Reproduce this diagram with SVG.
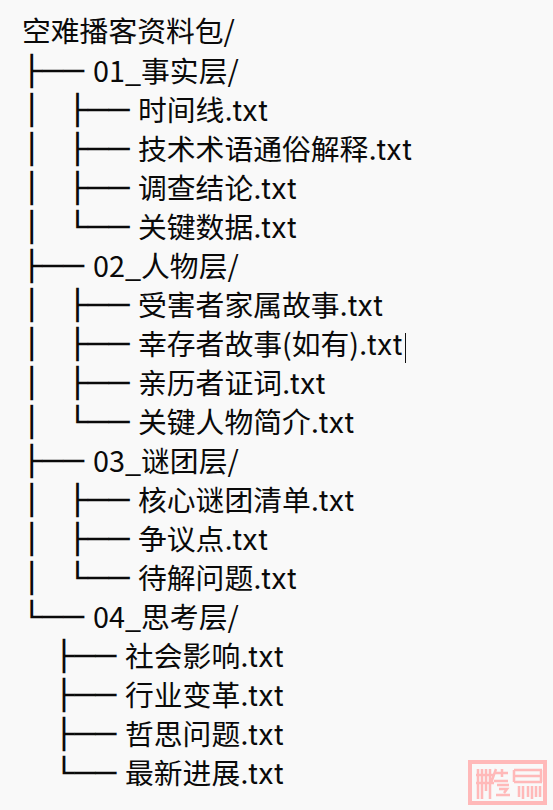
<svg xmlns="http://www.w3.org/2000/svg" width="553" height="810" viewBox="0 0 553 810">
<style>
.l{font-family:"Noto Sans CJK SC","Liberation Sans",sans-serif;font-size:28.8px;fill:#0a0a0a}
.e{font-family:Inter,"Noto Sans",sans-serif}
.t{font-family:"DejaVu Sans Mono",monospace;font-size:29px;fill:#0a0a0a}
.s{stroke:#ffb9b9;fill:none}
</style>
<rect width="553" height="810" fill="#f9f9f9"/>
<g id="connectors">
<text class="t" x="21.300" y="81" textLength="62.400" lengthAdjust="spacingAndGlyphs">├──</text>
<text class="t" x="21.300" y="120" textLength="20.800" lengthAdjust="spacingAndGlyphs">│</text><text class="t" x="67" y="120" textLength="62.400" lengthAdjust="spacingAndGlyphs">├──</text>
<text class="t" x="21.300" y="159" textLength="20.800" lengthAdjust="spacingAndGlyphs">│</text><text class="t" x="67" y="159" textLength="62.400" lengthAdjust="spacingAndGlyphs">├──</text>
<text class="t" x="21.300" y="198" textLength="20.800" lengthAdjust="spacingAndGlyphs">│</text><text class="t" x="67" y="198" textLength="62.400" lengthAdjust="spacingAndGlyphs">├──</text>
<text class="t" x="21.300" y="237" textLength="20.800" lengthAdjust="spacingAndGlyphs">│</text><text class="t" x="67" y="237" textLength="62.400" lengthAdjust="spacingAndGlyphs">└──</text>
<text class="t" x="21.300" y="276" textLength="62.400" lengthAdjust="spacingAndGlyphs">├──</text>
<text class="t" x="21.300" y="315" textLength="20.800" lengthAdjust="spacingAndGlyphs">│</text><text class="t" x="67" y="315" textLength="62.400" lengthAdjust="spacingAndGlyphs">├──</text>
<text class="t" x="21.300" y="354" textLength="20.800" lengthAdjust="spacingAndGlyphs">│</text><text class="t" x="67" y="354" textLength="62.400" lengthAdjust="spacingAndGlyphs">├──</text>
<text class="t" x="21.300" y="393" textLength="20.800" lengthAdjust="spacingAndGlyphs">│</text><text class="t" x="67" y="393" textLength="62.400" lengthAdjust="spacingAndGlyphs">├──</text>
<text class="t" x="21.300" y="432" textLength="20.800" lengthAdjust="spacingAndGlyphs">│</text><text class="t" x="67" y="432" textLength="62.400" lengthAdjust="spacingAndGlyphs">└──</text>
<text class="t" x="21.300" y="471" textLength="62.400" lengthAdjust="spacingAndGlyphs">├──</text>
<text class="t" x="21.300" y="510" textLength="20.800" lengthAdjust="spacingAndGlyphs">│</text><text class="t" x="67" y="510" textLength="62.400" lengthAdjust="spacingAndGlyphs">├──</text>
<text class="t" x="21.300" y="549" textLength="20.800" lengthAdjust="spacingAndGlyphs">│</text><text class="t" x="67" y="549" textLength="62.400" lengthAdjust="spacingAndGlyphs">├──</text>
<text class="t" x="21.300" y="588" textLength="20.800" lengthAdjust="spacingAndGlyphs">│</text><text class="t" x="67" y="588" textLength="62.400" lengthAdjust="spacingAndGlyphs">└──</text>
<text class="t" x="21.300" y="627" textLength="62.400" lengthAdjust="spacingAndGlyphs">└──</text>
<text class="t" x="53.600" y="666" textLength="62.400" lengthAdjust="spacingAndGlyphs">├──</text>
<text class="t" x="53.600" y="705" textLength="62.400" lengthAdjust="spacingAndGlyphs">├──</text>
<text class="t" x="53.600" y="744" textLength="62.400" lengthAdjust="spacingAndGlyphs">├──</text>
<text class="t" x="53.600" y="783" textLength="62.400" lengthAdjust="spacingAndGlyphs">└──</text>
</g>
<g id="root"><text class="l" x="22" y="42">空难播客资料包/</text></g>
<g id="n01"><text class="l" x="93" y="82">01_事实层/</text></g>
<g id="n01a"><text class="l" x="138" y="121">时间线<tspan class="e">.txt</tspan></text></g>
<g id="n01b"><text class="l" x="138" y="160">技术术语通俗解释<tspan class="e">.txt</tspan></text></g>
<g id="n01c"><text class="l" x="138" y="199">调查结论<tspan class="e">.txt</tspan></text></g>
<g id="n01d"><text class="l" x="138" y="238">关键数据<tspan class="e">.txt</tspan></text></g>
<g id="n02"><text class="l" x="93" y="277">02_人物层/</text></g>
<g id="n02a"><text class="l" x="138" y="316">受害者家属故事<tspan class="e">.txt</tspan></text></g>
<g id="n02b"><text class="l" x="138" y="355">幸存者故事(如有)<tspan class="e">.txt</tspan></text><line x1="405.500" y1="333" x2="405.500" y2="363" stroke="#111" stroke-width="1"/></g>
<g id="n02c"><text class="l" x="138" y="394">亲历者证词<tspan class="e">.txt</tspan></text></g>
<g id="n02d"><text class="l" x="138" y="433">关键人物简介<tspan class="e">.txt</tspan></text></g>
<g id="n03"><text class="l" x="93" y="472">03_谜团层/</text></g>
<g id="n03a"><text class="l" x="138" y="511">核心谜团清单<tspan class="e">.txt</tspan></text></g>
<g id="n03b"><text class="l" x="138" y="550">争议点<tspan class="e">.txt</tspan></text></g>
<g id="n03c"><text class="l" x="138" y="589">待解问题<tspan class="e">.txt</tspan></text></g>
<g id="n04"><text class="l" x="93" y="628">04_思考层/</text></g>
<g id="n04a"><text class="l" x="125" y="667">社会影响<tspan class="e">.txt</tspan></text></g>
<g id="n04b"><text class="l" x="125" y="706">行业变革<tspan class="e">.txt</tspan></text></g>
<g id="n04c"><text class="l" x="125" y="745">哲思问题<tspan class="e">.txt</tspan></text></g>
<g id="n04d"><text class="l" x="125" y="784">最新进展<tspan class="e">.txt</tspan></text></g>
<g id="seal">
<rect class="s" x="470" y="762" width="75" height="41" stroke-width="4"/>
<path class="s" stroke-width="2.500" d="M478 769v30M482 769v30M486 769v22M490 769v30M476 775h18M476 783h18M496 769l-5 14M502 769v8M494 773h14M494 781h14M497 785h12M499 789h8l-3 4M496 795h14M514 770h28M514 770v12M541 770v12M514 776h28M514 782h28M519 786v11M523 786v13M528 786v11M532 786v13M536 786v11M540 786v11"/>
</g>
</svg>
